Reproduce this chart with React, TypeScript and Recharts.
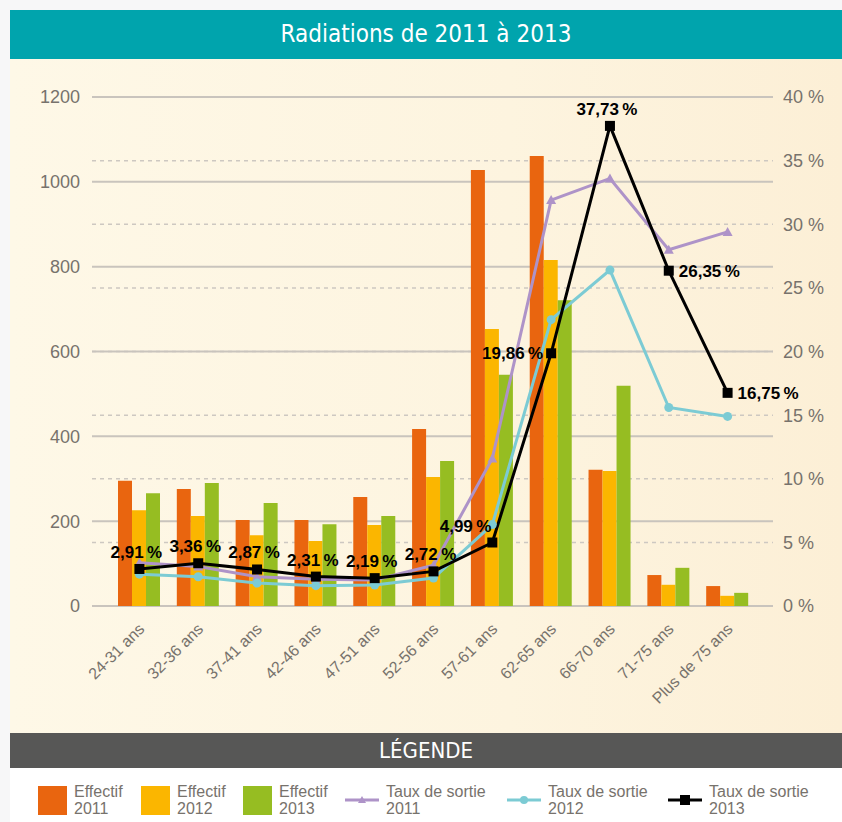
import { ComposedChart, Bar, Line, XAxis, YAxis, CartesianGrid, LabelList } from 'recharts';

const categories = [
  '24-31 ans', '32-36 ans', '37-41 ans', '42-46 ans', '47-51 ans', '52-56 ans',
  '57-61 ans', '62-65 ans', '66-70 ans', '71-75 ans', 'Plus de 75 ans',
];

// effectifs (nombre de radiations)
const effectif2011 = [295, 276, 203, 203, 257, 417, 1028, 1061, 321, 73, 47];
const effectif2012 = [226, 212, 167, 153, 191, 304, 653, 816, 318, 50, 24];
const effectif2013 = [266, 290, 243, 193, 212, 342, 545, 721, 519, 90, 31];

// taux de sortie en %
const taux2011 = [3.4, 3.1, 2.3, 2.1, 2.05, 3.2, 11.6, 31.9, 33.6, 28.0, 29.4];
const taux2012 = [2.5, 2.3, 1.8, 1.6, 1.65, 2.2, 6.4, 22.5, 26.4, 15.6, 14.9];
const taux2013 = [2.91, 3.36, 2.87, 2.31, 2.19, 2.72, 4.99, 19.86, 37.73, 26.35, 16.75];

const leftTicks = [0, 200, 400, 600, 800, 1000, 1200];
const rightTicks = [0, 5, 10, 15, 20, 25, 30, 35, 40];

const data = categories.map((name, i) => ({
  name,
  e2011: effectif2011[i],
  e2012: effectif2012[i],
  e2013: effectif2013[i],
  t2011: taux2011[i],
  t2012: taux2012[i],
  t2013: taux2013[i],
}));

const ORANGE = '#e9650f';
const YELLOW = '#fbb600';
const GREEN = '#96bd22';
const PURPLE = '#ae93c8';
const CYAN = '#7ccbd4';
const AXIS_TEXT = '#77726c';
const FONT = '"Liberation Sans", Arial, Helvetica, sans-serif';
const NARROW = '"Liberation Sans Narrow", "DejaVu Sans Condensed", "Open Sans", sans-serif';

const fmtPct = (v: number) => v.toFixed(2).replace('.', ',') + '\u202F%';

// where the 2013 label sits relative to its marker
const labelSide = ['top', 'top', 'top', 'top', 'top', 'top', 'topleft', 'left', 'top', 'right', 'right'];

function TauxLabel(props: any) {
  const { x, y, index, value } = props;
  const side = labelSide[index];
  let tx = x, ty = y - 11, anchor: 'middle' | 'end' | 'start' = 'middle';
  if (side === 'left') { tx = x - 8; ty = y + 6; anchor = 'end'; }
  if (side === 'topleft') { tx = x - 1; ty = y - 11; anchor = 'end'; }
  if (side === 'right') { tx = x + 10; ty = y + 6; anchor = 'start'; }
  if (side === 'top') { tx = x - 3; }
  return (
    <text x={tx} y={ty} textAnchor={anchor} fontFamily={FONT} fontWeight={700} fontSize={17} fill="#000">
      {fmtPct(value)}
    </text>
  );
}

function Triangle(props: any) {
  const { cx, cy } = props;
  if (cx == null || cy == null) return null;
  return <polygon points={`${cx},${cy - 5} ${cx - 5},${cy + 4} ${cx + 5},${cy + 4}`} fill={PURPLE} />;
}

function Square(props: any) {
  const { cx, cy } = props;
  if (cx == null || cy == null) return null;
  return <rect x={cx - 5} y={cy - 5} width={10} height={10} fill="#000" />;
}

function XTick(props: any) {
  const { x, y, payload } = props;
  const ax = x + 6;
  const ay = y + 16;
  return (
    <text
      x={ax}
      y={ay}
      textAnchor="end"
      transform={`rotate(-45 ${ax} ${ay})`}
      fontFamily={FONT}
      fontSize={16}
      fill={AXIS_TEXT}
    >
      {payload.value}
    </text>
  );
}

function LegendItem({ icon, line1, line2 }: { icon: any; line1: string; line2: string }) {
  return (
    <div style={{ display: 'flex', alignItems: 'center' }}>
      {icon}
      <div style={{ fontFamily: FONT, fontSize: 16, lineHeight: '17px', color: '#77726c', marginLeft: 7 }}>
        <div>{line1}</div>
        <div>{line2}</div>
      </div>
    </div>
  );
}

const box = (c: string) => <div style={{ width: 29, height: 29, background: c }} />;
const lineIcon = (c: string, marker: any) => (
  <svg width={34} height={14}>
    <line x1={0} y1={7} x2={34} y2={7} stroke={c} strokeWidth={3} />
    {marker}
  </svg>
);

export default function App() {
  return (
    <div style={{ position: 'absolute', left: 0, top: 0, width: 842, height: 822, background: '#f7f7f8' }}>
      <div style={{ position: 'absolute', left: 10, top: 10, width: 832, height: 812, background: '#fff' }}>
        <div
          style={{
            height: 49,
            background: '#00a4ad',
            color: '#fff',
            fontFamily: NARROW,
            fontSize: 24,
            lineHeight: '49px',
            textAlign: 'center',
          }}
        >
          Radiations de 2011 à 2013
        </div>
        <div style={{ height: 674, background: 'linear-gradient(90deg, #fef8e7 0%, #fdf4df 60%, #fcefd6 100%)' }}>
          <ComposedChart
            width={832}
            height={674}
            data={data}
            margin={{ top: 38, right: 0, bottom: 0, left: 0 }}
            barGap={0}
            barSize={14}
          >
            <CartesianGrid
              yAxisId="right"
              vertical={false}
              stroke="#cdc8c1"
              strokeWidth={1.5}
              strokeDasharray="4 4"
            />
            <CartesianGrid yAxisId="left" vertical={false} stroke="#c9c4bd" strokeWidth={2} />
            <XAxis
              dataKey="name"
              axisLine={false}
              tickLine={false}
              interval={0}
              height={127}
              padding={{ left: 18, right: 16 }}
              tick={<XTick />}
            />
            <YAxis
              yAxisId="left"
              orientation="left"
              width={82}
              domain={[0, 1200]}
              ticks={leftTicks}
              axisLine={false}
              tickLine={false}
              tickMargin={6}
              tick={{ fill: AXIS_TEXT, fontSize: 18, fontFamily: FONT }}
            />
            <YAxis
              yAxisId="right"
              orientation="right"
              width={69}
              domain={[0, 40]}
              ticks={rightTicks}
              axisLine={false}
              tickLine={false}
              tickMargin={4}
              tickFormatter={(v) => `${v} %`}
              tick={{ fill: AXIS_TEXT, fontSize: 18, fontFamily: FONT, textAnchor: 'start' }}
            />
            <Bar yAxisId="left" dataKey="e2011" fill={ORANGE} isAnimationActive={false} />
            <Bar yAxisId="left" dataKey="e2012" fill={YELLOW} isAnimationActive={false} />
            <Bar yAxisId="left" dataKey="e2013" fill={GREEN} isAnimationActive={false} />
            <Line
              yAxisId="right"
              dataKey="t2011"
              stroke={PURPLE}
              strokeWidth={3}
              dot={<Triangle />}
              activeDot={false}
              isAnimationActive={false}
            />
            <Line
              yAxisId="right"
              dataKey="t2012"
              stroke={CYAN}
              strokeWidth={3}
              dot={{ r: 4.5, fill: CYAN, stroke: CYAN, strokeWidth: 0 }}
              activeDot={false}
              isAnimationActive={false}
            />
            <Line
              yAxisId="right"
              dataKey="t2013"
              stroke="#000"
              strokeWidth={3}
              dot={<Square />}
              activeDot={false}
              isAnimationActive={false}
            >
              <LabelList dataKey="t2013" content={<TauxLabel />} />
            </Line>
          </ComposedChart>
        </div>
        <div
          style={{
            height: 35,
            background: '#575756',
            color: '#fff',
            fontFamily: NARROW,
            fontSize: 22,
            lineHeight: '35px',
            textAlign: 'center',
          }}
        >
          LÉGENDE
        </div>
        <div style={{ position: 'relative', height: 54 }}>
          <div style={{ position: 'absolute', left: 28, top: 15 }}>
            <LegendItem icon={box(ORANGE)} line1="Effectif" line2="2011" />
          </div>
          <div style={{ position: 'absolute', left: 131, top: 15 }}>
            <LegendItem icon={box(YELLOW)} line1="Effectif" line2="2012" />
          </div>
          <div style={{ position: 'absolute', left: 233, top: 15 }}>
            <LegendItem icon={box(GREEN)} line1="Effectif" line2="2013" />
          </div>
          <div style={{ position: 'absolute', left: 335, top: 15 }}>
            <LegendItem
              icon={lineIcon(PURPLE, <polygon points="17,3 13,10 21,10" fill={PURPLE} />)}
              line1="Taux de sortie"
              line2="2011"
            />
          </div>
          <div style={{ position: 'absolute', left: 497, top: 15 }}>
            <LegendItem
              icon={lineIcon(CYAN, <circle cx={17} cy={7} r={4} fill={CYAN} />)}
              line1="Taux de sortie"
              line2="2012"
            />
          </div>
          <div style={{ position: 'absolute', left: 658, top: 15 }}>
            <LegendItem
              icon={lineIcon('#000', <rect x={12} y={2} width={10} height={10} fill="#000" />)}
              line1="Taux de sortie"
              line2="2013"
            />
          </div>
        </div>
      </div>
    </div>
  );
}
